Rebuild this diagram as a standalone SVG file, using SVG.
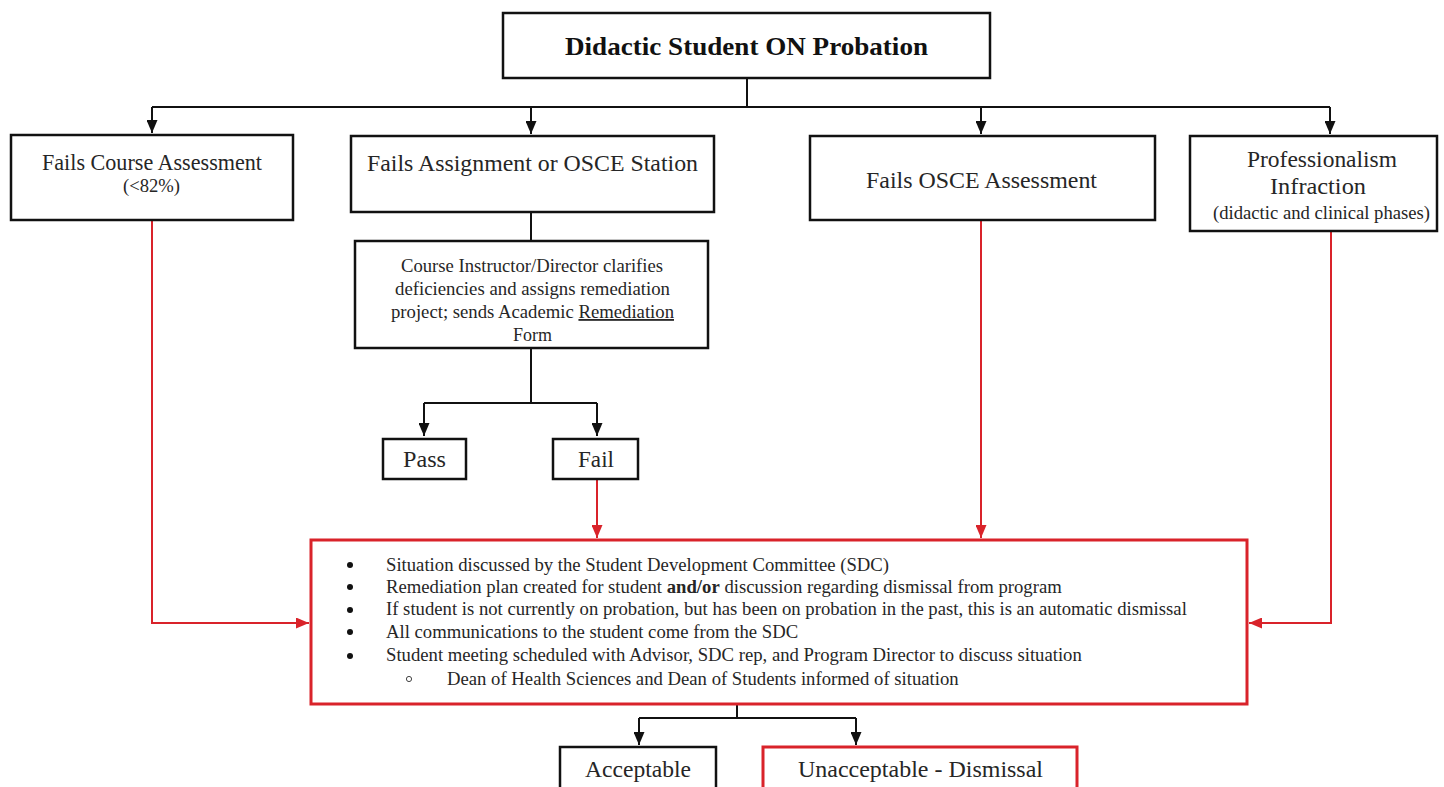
<svg xmlns="http://www.w3.org/2000/svg" width="1444" height="787" viewBox="0 0 1444 787">
  <style>
    text { font-family: "Liberation Serif", "Times New Roman", serif; fill: #262626; }
    .box { fill: #fff; stroke: #111; stroke-width: 2.5; }
    .rbox { fill: #fff; stroke: #d9232a; stroke-width: 3; }
    .ln { fill: none; stroke: #111; stroke-width: 2; }
    .rln { fill: none; stroke: #d9232a; stroke-width: 2; }
    .lbl { font-size: 23px; text-anchor: middle; }
    .sm { font-size: 18px; text-anchor: middle; }
    .rem { font-size: 18.2px; text-anchor: middle; }
    .li { font-size: 18.7px; }
  </style>
  <defs>
    <marker id="ah" viewBox="0 0 13 11" refX="13" refY="5.5" markerWidth="13" markerHeight="11" markerUnits="userSpaceOnUse" orient="auto">
      <path d="M0,0 L13,5.5 L0,11 Z" fill="#111"/>
    </marker>
    <marker id="rah" viewBox="0 0 13 11" refX="13" refY="5.5" markerWidth="13" markerHeight="11" markerUnits="userSpaceOnUse" orient="auto">
      <path d="M0,0 L13,5.5 L0,11 Z" fill="#d9232a"/>
    </marker>
  </defs>

  <g id="connectors">
    <path class="ln" d="M747,78 V107"/>
    <path class="ln" d="M152,107 H1330"/>
    <path class="ln" d="M152,107 V133" marker-end="url(#ah)"/>
    <path class="ln" d="M531,107 V134" marker-end="url(#ah)"/>
    <path class="ln" d="M981,107 V134" marker-end="url(#ah)"/>
    <path class="ln" d="M1330,107 V134" marker-end="url(#ah)"/>
    <path class="ln" d="M531,212 V240"/>
    <path class="ln" d="M531,349 V403 M424,403 H597"/>
    <path class="ln" d="M424,403 V436" marker-end="url(#ah)"/>
    <path class="ln" d="M597,403 V436" marker-end="url(#ah)"/>
    <path class="rln" d="M597,479 V538" marker-end="url(#rah)"/>
    <path class="rln" d="M981,220 V538" marker-end="url(#rah)"/>
    <path class="rln" d="M152,220 V623 H309" marker-end="url(#rah)"/>
    <path class="rln" d="M1331,231 V623 H1249" marker-end="url(#rah)"/>
    <path class="ln" d="M737,704 V718 M639,718 H856"/>
    <path class="ln" d="M639,718 V745" marker-end="url(#ah)"/>
    <path class="ln" d="M856,718 V745" marker-end="url(#ah)"/>
  </g>

  <g id="top">
    <rect class="box" x="503" y="13" width="487" height="65"/>
    <text x="746.5" y="55" textLength="363" lengthAdjust="spacingAndGlyphs" style="font-size:25px;font-weight:bold;text-anchor:middle;fill:#111">Didactic Student ON Probation</text>
  </g>

  <g id="course">
    <rect class="box" x="11" y="135" width="282" height="85"/>
    <text class="lbl" x="152" y="170" textLength="220" lengthAdjust="spacingAndGlyphs">Fails Course Assessment</text>
    <text class="sm" x="151.5" y="192" textLength="57" lengthAdjust="spacingAndGlyphs">(&lt;82%)</text>
  </g>

  <g id="assignment">
    <rect class="box" x="351" y="136" width="363" height="76"/>
    <text class="lbl" x="532.5" y="171" textLength="331" lengthAdjust="spacingAndGlyphs">Fails Assignment or OSCE Station</text>
  </g>

  <g id="osce">
    <rect class="box" x="810" y="136" width="345" height="84"/>
    <text class="lbl" x="981.5" y="188" textLength="231" lengthAdjust="spacingAndGlyphs">Fails OSCE Assessment</text>
  </g>

  <g id="professionalism">
    <rect class="box" x="1190" y="136" width="247" height="95"/>
    <text class="lbl" x="1322" y="167" textLength="150" lengthAdjust="spacingAndGlyphs">Professionalism</text>
    <text class="lbl" x="1318" y="194" textLength="96" lengthAdjust="spacingAndGlyphs">Infraction</text>
    <text class="sm" x="1321.5" y="219" textLength="217" lengthAdjust="spacingAndGlyphs">(didactic and clinical phases)</text>
  </g>

  <g id="remediation">
    <rect class="box" x="355" y="241" width="353" height="107"/>
    <text class="rem" x="532" y="272" textLength="262" lengthAdjust="spacingAndGlyphs">Course Instructor/Director clarifies</text>
    <text class="rem" x="532.5" y="295" textLength="275" lengthAdjust="spacingAndGlyphs">deficiencies and assigns remediation</text>
    <text class="rem" x="532.5" y="318" textLength="283" lengthAdjust="spacingAndGlyphs">project; sends Academic <tspan text-decoration="underline">Remediation</tspan></text>
    <text class="rem" x="532.5" y="341" textLength="39" lengthAdjust="spacingAndGlyphs">Form</text>
  </g>

  <g id="pass">
    <rect class="box" x="383" y="439" width="83" height="40"/>
    <text class="lbl" x="424.5" y="467" textLength="43" lengthAdjust="spacingAndGlyphs">Pass</text>
  </g>

  <g id="fail">
    <rect class="box" x="553" y="439" width="85" height="40"/>
    <text class="lbl" x="596" y="467" textLength="36" lengthAdjust="spacingAndGlyphs">Fail</text>
  </g>

  <g id="sdc">
    <rect class="rbox" x="311" y="540" width="936" height="164"/>
    <g style="fill:#111">
      <circle cx="350" cy="565" r="3"/>
      <circle cx="350" cy="587" r="3"/>
      <circle cx="350" cy="610" r="3"/>
      <circle cx="350" cy="632" r="3"/>
      <circle cx="350" cy="656" r="3"/>
    </g>
    <circle cx="409" cy="679" r="2.6" fill="none" stroke="#444" stroke-width="1"/>
    <text class="li" x="386" y="571">Situation discussed by the Student Development Committee (SDC)</text>
    <text class="li" x="386" y="593">Remediation plan created for student <tspan font-weight="bold">and/or</tspan> discussion regarding dismissal from program</text>
    <text class="li" x="386" y="615">If student is not currently on probation, but has been on probation in the past, this is an automatic dismissal</text>
    <text class="li" x="386" y="638">All communications to the student come from the SDC</text>
    <text class="li" x="386" y="661">Student meeting scheduled with Advisor, SDC rep, and Program Director to discuss situation</text>
    <text class="li" x="447" y="685">Dean of Health Sciences and Dean of Students informed of situation</text>
  </g>

  <g id="acceptable">
    <rect class="box" x="560" y="747" width="156" height="50"/>
    <text class="lbl" x="638" y="777" textLength="106" lengthAdjust="spacingAndGlyphs">Acceptable</text>
  </g>

  <g id="dismissal">
    <rect class="rbox" x="763" y="747" width="314" height="50"/>
    <text class="lbl" x="920.5" y="777" textLength="245" lengthAdjust="spacingAndGlyphs">Unacceptable - Dismissal</text>
  </g>
</svg>
